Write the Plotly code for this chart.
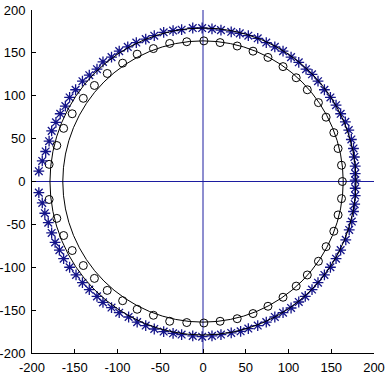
import plotly.graph_objects as go

# Radii of the two reference circles (centered at origin)
inner_radius = 164
outer_radius = 179

# 'o' markers (x, y)
o_x = [1, 20, 40, 58.5, 76, 93.6, 109, 122, 135, 144, 153, 158, 162, 163, 162, 158, 153, 144, 135, 122, 109, 93.6, 76, 58.5, 40, 20, 1,
       -19, -39, -58, -77, -94, -112, -127, -140, -153, -163, -171, -180, -180, -171, -163, -153, -140, -127, -112, -94, -77, -58, -39, -19]
o_y = [164, 162, 158, 152, 144.7, 134, 121, 107, 92, 75, 57, 38.5, 19, 0, -20, -39, -58, -76, -93, -109, -122, -135, -145.5, -154, -160, -163, -165,
       -164.5, -163, -156, -149, -139, -127, -113, -98, -80.5, -63, -43, -21, 20, 42, 62, 79, 97, 112, 126, 138, 148.5, 155, 161, 163]

# '*' markers (x, y)
s_x = [-1, 10.5, 21, 33, 43, 53, 64, 74, 84, 93.6, 103, 112, 120.5, 127.5, 134.5, 142, 149, 155.6, 161, 166.5, 170.5, 173.5, 176, 177, 178, 178, 178,
       178, 178, 177.4, 176, 174, 171, 167, 161, 155.6, 149, 142, 134.5, 127.5, 119.6, 112, 103, 93.6, 84, 74, 64, 53, 44, 33, 21, 10.5, -1,
       -12, -25, -35, -46, -57, -67, -77, -87, -98, -107, -117, -124, -133, -141, -148.5, -156, -163, -168, -173, -177, -181, -185, -188, -192,
       -192, -188, -184, -180, -177, -172, -167, -161, -156, -149, -141, -133, -124, -117, -107, -98, -88, -78, -67, -57, -46, -35, -25, -12]
s_y = [179, 178, 176.5, 174.6, 172.7, 170, 167, 162, 157, 152, 145, 139, 131, 125, 117, 107, 98, 89, 79, 69.5, 60, 49, 38.5, 28.6, 18, 9.2, 1.5,
       -7.9, -16.4, -26.5, -35, -46.7, -56.5, -68, -80, -90, -100, -109, -118, -126, -134, -140.5, -147.5, -153, -158, -164, -168, -171.5, -174.7, -176.6, -178.5, -180, -181,
       -180, -178.5, -177, -175, -172, -168, -164, -158, -153, -147, -141, -134, -126, -118, -109, -100, -90, -80, -71, -60, -48, -37, -25, -13,
       12, 24, 35, 47, 59, 69, 79, 88, 98, 107, 117, 124, 131, 139.5, 145, 152, 157, 162, 166, 170, 174, 176, 177, 179]

# Axis crosshair lines
h_x = [-200, 200]
h_y = [0, 0]
v_x = [0, 0]
v_y = [-200, 200]

ticks = [-200, -150, -100, -50, 0, 50, 100, 150, 200]
tick_text = [str(t) for t in ticks]

navy = "#14148a"
cross_color = "#1c1ca0"

fig = go.Figure()

fig.add_trace(go.Scatter(x=h_x, y=h_y, mode="lines", line=dict(color=cross_color, width=1), hoverinfo="skip"))
fig.add_trace(go.Scatter(x=v_x, y=v_y, mode="lines", line=dict(color=cross_color, width=1), hoverinfo="skip"))

for r in (inner_radius, outer_radius):
    fig.add_shape(type="circle", xref="x", yref="y", x0=-r, y0=-r, x1=r, y1=r,
                  line=dict(color="black", width=1), layer="above")

fig.add_trace(go.Scatter(x=o_x, y=o_y, mode="markers",
                         marker=dict(symbol="circle-open", size=8, color="black", line=dict(width=1, color="black"))))
fig.add_trace(go.Scatter(x=s_x, y=s_y, mode="markers",
                         marker=dict(symbol="asterisk-open", size=9, color=navy, line=dict(width=1.3, color=navy))))

axis_common = dict(range=[-200, 200], tickvals=ticks, ticktext=tick_text, ticks="inside", ticklen=4,
                   tickcolor="black", showline=True, linecolor="black", linewidth=1, mirror=False,
                   showgrid=False, zeroline=False, automargin=False,
                   tickfont=dict(family="Liberation Sans, Arial", size=13, color="black"))

fig.update_layout(
    width=392, height=376,
    margin=dict(l=32, r=18, t=10, b=23),
    paper_bgcolor="white", plot_bgcolor="white",
    showlegend=False,
    xaxis=dict(**axis_common, ticklabelstandoff=2),
    yaxis=dict(**axis_common, ticklabelstandoff=3),
)

# remove the default page margin so the figure sits at the window's corner
fig.write_html("out.html", config={"displayModeBar": False},
               post_script="document.body.style.margin='0';")
